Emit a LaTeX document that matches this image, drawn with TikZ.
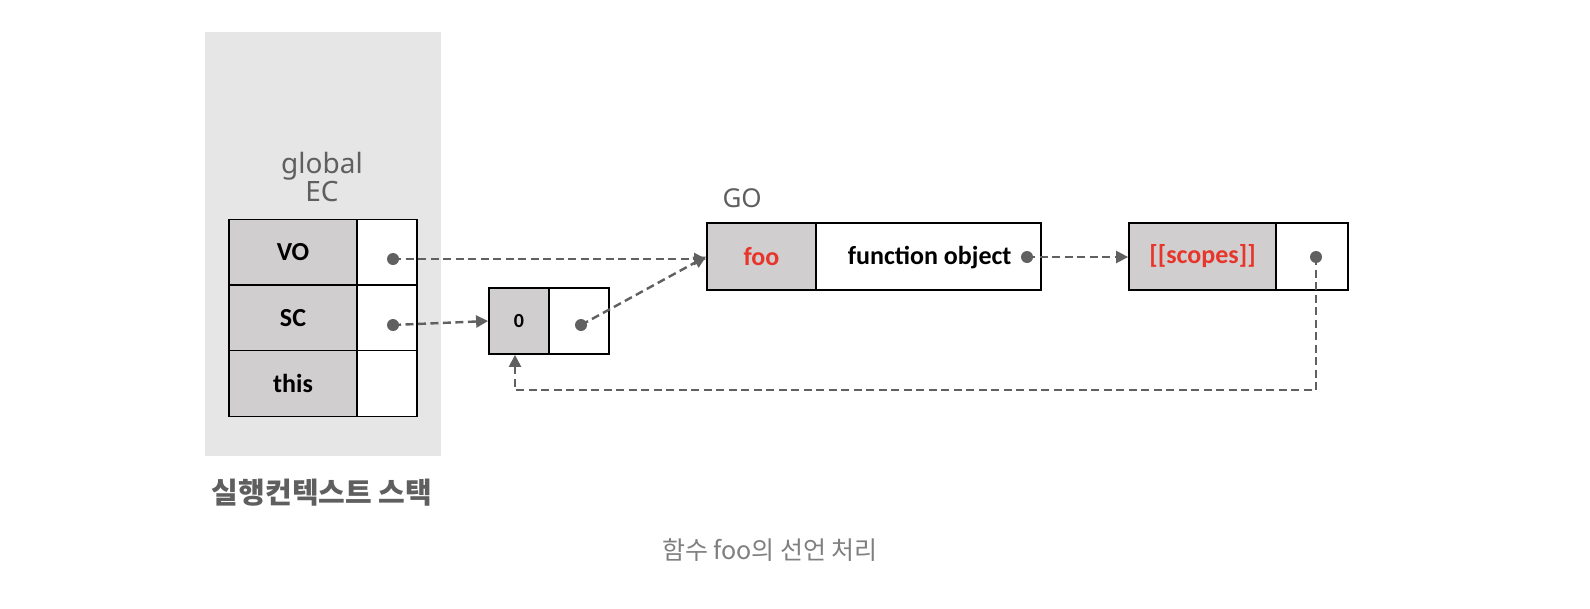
\documentclass[tikz,border=0pt]{standalone}
\usepackage{fontspec}
\setmainfont{Carlito}
\newfontfamily\lblfont{Noto Sans}
\newfontfamily\cjk{Noto Sans CJK KR}
\usetikzlibrary{arrows.meta}
\definecolor{bggray}{HTML}{E6E6E6}
\definecolor{cellgray}{HTML}{D0CECE}
\definecolor{linegray}{HTML}{606060}
\definecolor{txtgray}{HTML}{5F5F5F}
\definecolor{redtxt}{HTML}{E8352B}
\begin{document}
\begin{tikzpicture}[x=1pt,y=-1pt,
  cell/.style={draw=black,line width=1.8pt,minimum height=66pt,inner sep=0pt,font=\fontsize{26}{30}\selectfont\bfseries},
  keycell/.style={cell,fill=cellgray},
  valcell/.style={cell,fill=white},
  ptr/.style={circle,fill=linegray,inner sep=0pt,minimum size=12pt},
  link/.style={draw=linegray,line width=2.4pt,dash pattern=on 8pt off 4.5pt,-{Triangle[length=12pt,width=12pt]}},
  lbl/.style={font=\lblfont\fontsize{28}{30}\selectfont,text=txtgray}]
\useasboundingbox (0,0) rectangle (1590,608);
\fill[bggray] (205,32) rectangle (441,456);
\node[lbl,align=center] (eclbl) at (322,177) {global\\[-2pt]EC};
% stack table
\node[keycell,minimum width=128pt] (vo) at (293,252.5) {VO};
\node[valcell,minimum width=60pt] (vov) at (387,252.5) {};
\node[keycell,minimum width=128pt] (sc) at (293,318) {SC};
\node[valcell,minimum width=60pt] (scv) at (387,318) {};
\node[keycell,minimum width=128pt] (th) at (293,383.5) {this};
\node[valcell,minimum width=60pt] (thv) at (387,383.5) {};
\node[ptr] (vod) at (393,259) {};
\node[ptr] (scd) at (393,325) {};
% box 0
\node[keycell,minimum width=60pt,font=\fontsize{20}{24}\selectfont\bfseries] (zero) at (519,321) {0};
\node[valcell,minimum width=60pt] (zerov) at (579,321) {};
\node[ptr] (zd) at (581,325) {};
% GO
\node[lbl,anchor=west,font=\lblfont\fontsize{26}{30}\selectfont] (golbl) at (719,198) {GO};
\node[keycell,minimum width=109pt,minimum height=67pt,text=redtxt] (foo) at (761.5,256.5) {foo};
\node[valcell,minimum width=225pt,minimum height=67pt] (fobj) at (928.5,256.5) {};
\node[anchor=east,font=\fontsize{26}{30}\selectfont\bfseries] (fotxt) at (1015,258) {function object};
\node[ptr] (fd) at (1027,257) {};
% scopes
\node[keycell,minimum width=147pt,minimum height=67pt,text=redtxt] (scopes) at (1202.5,256.5) {[[scopes]]};
\node[valcell,minimum width=72pt,minimum height=67pt] (scopesv) at (1312,256.5) {};
\node[ptr] (sd) at (1316,257) {};
% links
\draw[link] (vod.center) -- (vod.center -| foo.west);
\draw[link] (scd.center) -- (zero.west);
\draw[link] (zd.center) -- (foo.west);
\draw[link] (fd.center) -- (fd.center -| scopes.west);
\coordinate (c1) at (1316,390);
\coordinate (c2) at (515,390);
\draw[link] (sd.center) -- (c1) -- (c2) -- (c2 |- zero.south);
% labels
\node[font=\cjk\bfseries\fontsize{29}{32}\selectfont,text=txtgray] (stk) at (322,493) {실행컨텍스트 스택};
\node[font=\cjk\fontsize{25}{28}\selectfont,text=txtgray!80] (cap) at (770,550) {함수 foo의 선언 처리};
\end{tikzpicture}
\end{document}
